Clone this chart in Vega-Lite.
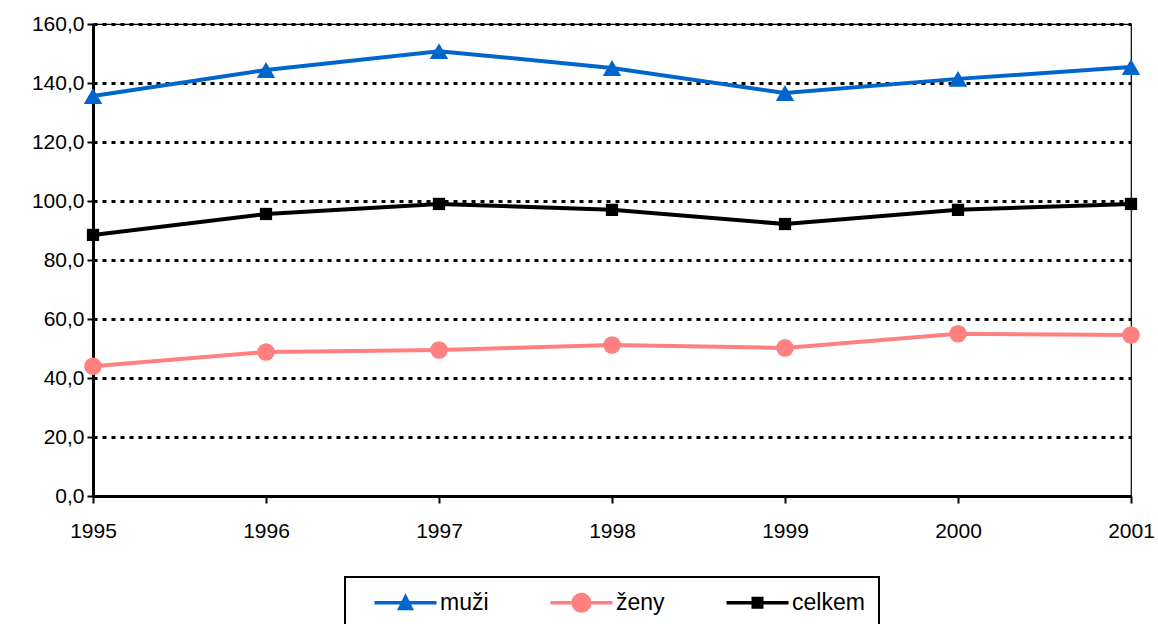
{
  "$schema": "https://vega.github.io/schema/vega-lite/v6.json",
  "width": 1038,
  "height": 472,
  "autosize": {"type": "none"},
  "padding": {"left": 93, "top": 24, "right": 27, "bottom": 128},
  "config": {
    "font": "Liberation Sans",
    "view": {"stroke": "#000000", "strokeWidth": 1.2}
  },
  "data": {
    "values": [
      {"year": 1995, "series": "muži", "value": 135.6},
      {"year": 1996, "series": "muži", "value": 144.4},
      {"year": 1997, "series": "muži", "value": 150.8},
      {"year": 1998, "series": "muži", "value": 145.1},
      {"year": 1999, "series": "muži", "value": 136.6},
      {"year": 2000, "series": "muži", "value": 141.4},
      {"year": 2001, "series": "muži", "value": 145.4},
      {"year": 1995, "series": "ženy", "value": 44.0},
      {"year": 1996, "series": "ženy", "value": 48.8},
      {"year": 1997, "series": "ženy", "value": 49.5},
      {"year": 1998, "series": "ženy", "value": 51.2},
      {"year": 1999, "series": "ženy", "value": 50.2},
      {"year": 2000, "series": "ženy", "value": 55.0},
      {"year": 2001, "series": "ženy", "value": 54.6},
      {"year": 1995, "series": "celkem", "value": 88.5},
      {"year": 1996, "series": "celkem", "value": 95.6},
      {"year": 1997, "series": "celkem", "value": 99.0},
      {"year": 1998, "series": "celkem", "value": 97.0},
      {"year": 1999, "series": "celkem", "value": 92.2},
      {"year": 2000, "series": "celkem", "value": 97.0},
      {"year": 2001, "series": "celkem", "value": 99.0}
    ]
  },
  "encoding": {
    "x": {
      "field": "year", "type": "quantitative",
      "scale": {"domain": [1995, 2001], "nice": false, "zero": false},
      "axis": {
        "title": null, "values": [1995, 1996, 1997, 1998, 1999, 2000, 2001], "format": "d",
        "grid": false, "domainColor": "#000000", "domainWidth": 3, "tickColor": "#000000",
        "tickWidth": 2, "tickSize": 7, "labelPadding": 17, "labelFlush": false,
        "labelFont": "Liberation Sans", "labelFontSize": 21, "labelColor": "#000000"
      }
    },
    "y": {
      "field": "value", "type": "quantitative",
      "scale": {"domain": [0, 160], "nice": false},
      "axis": {
        "title": null, "values": [0, 20, 40, 60, 80, 100, 120, 140, 160],
        "labelExpr": "replace(format(datum.value, '.1f'), '.', ',')",
        "grid": true, "gridColor": "#000000", "gridDash": [4, 5], "gridWidth": 3,
        "domainColor": "#000000", "domainWidth": 3, "tickColor": "#000000",
        "tickWidth": 2, "tickSize": 6, "labelPadding": 3,
        "labelFont": "Liberation Sans", "labelFontSize": 21, "labelColor": "#000000"
      }
    }
  },
  "layer": [
    {
      "transform": [{"filter": "datum.series === 'muži'"}],
      "mark": {"type": "line", "strokeWidth": 4, "color": "#0066CC"}
    },
    {
      "transform": [{"filter": "datum.series === 'ženy'"}],
      "mark": {"type": "line", "strokeWidth": 4, "color": "#FF8080"}
    },
    {
      "transform": [{"filter": "datum.series === 'celkem'"}],
      "mark": {"type": "line", "strokeWidth": 4, "color": "#000000"}
    },
    {
      "transform": [{"filter": "datum.series === 'muži'"}],
      "mark": {"type": "point", "shape": "triangle-up", "filled": true, "size": 340, "color": "#0066CC", "opacity": 1}
    },
    {
      "transform": [{"filter": "datum.series === 'ženy'"}],
      "mark": {"type": "point", "shape": "circle", "filled": true, "size": 310, "color": "#FF8080", "opacity": 1}
    },
    {
      "transform": [{"filter": "datum.series === 'celkem'"}],
      "mark": {"type": "point", "shape": "square", "filled": true, "size": 150, "color": "#000000", "opacity": 1}
    },
    {
      "mark": {"type": "point", "filled": true, "opacity": 0},
      "encoding": {
        "color": {
          "field": "series", "type": "nominal",
          "scale": {"domain": ["muži", "ženy", "celkem"], "range": ["#0066CC", "#FF8080", "#000000"]},
          "legend": {
            "title": null, "orient": "none", "legendX": 252, "legendY": 553,
            "direction": "horizontal", "columns": 3, "gridAlign": "all", "columnPadding": 22,
            "padding": 14, "symbolSize": 400, "symbolOffset": 14, "labelOffset": 44, "labelFontSize": 23,
            "labelFont": "Liberation Sans", "labelColor": "#000000", "symbolOpacity": 1,
            "strokeColor": "#000000", "symbolStrokeWidth": 0,
            "encode": {
              "symbols": {"update": {"opacity": {"value": 1}, "strokeWidth": {"value": 0}}},
              "legend": {"update": {"stroke": {"value": "#000000"}, "strokeWidth": {"value": 2}}}
            }
          }
        },
        "shape": {
          "field": "series", "type": "nominal",
          "scale": {
            "domain": ["muži", "ženy", "celkem"],
            "range": [
              "M-1,-0.18 L5.2,-0.18 L5.2,0.18 L-1,0.18 Z M1.25,0.75 L2.1,-0.95 L2.95,0.75 Z",
              "M-1,-0.18 L1.15,-0.18 L1.15,0.18 L-1,0.18 Z M3.05,-0.18 L5.2,-0.18 L5.2,0.18 L3.05,0.18 Z M1.1,0 A1,1 0 1,1 3.1,0 A1,1 0 1,1 1.1,0 Z",
              "M-1,-0.18 L5.2,-0.18 L5.2,0.18 L-1,0.18 Z M1.5,-0.6 L2.7,-0.6 L2.7,0.6 L1.5,0.6 Z"
            ]
          },
          "legend": {
            "title": null, "orient": "none", "legendX": 252, "legendY": 553,
            "direction": "horizontal", "columns": 3, "gridAlign": "all", "columnPadding": 22,
            "padding": 14, "symbolSize": 400, "symbolOffset": 14, "labelOffset": 44, "labelFontSize": 23,
            "labelFont": "Liberation Sans", "labelColor": "#000000", "symbolOpacity": 1,
            "strokeColor": "#000000", "symbolStrokeWidth": 0,
            "encode": {
              "symbols": {"update": {"opacity": {"value": 1}, "strokeWidth": {"value": 0}}},
              "legend": {"update": {"stroke": {"value": "#000000"}, "strokeWidth": {"value": 2}}}
            }
          }
        }
      }
    }
  ]
}
